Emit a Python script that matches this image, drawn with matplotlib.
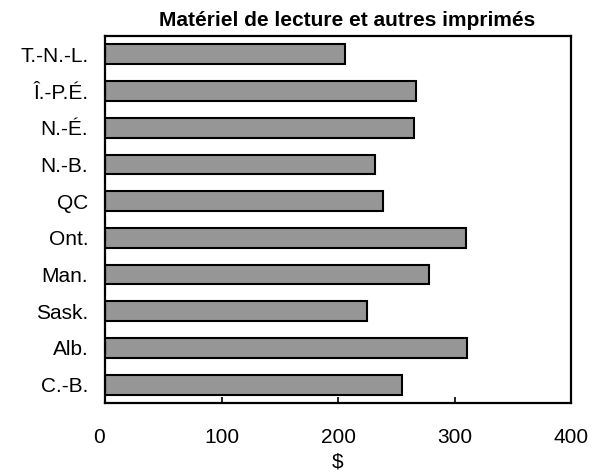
import matplotlib
matplotlib.use("Agg")
import matplotlib.pyplot as plt

provinces = ["T.-N.-L.", "Î.-P.É.", "N.-É.", "N.-B.", "QC",
             "Ont.", "Man.", "Sask.", "Alb.", "C.-B."]
dollars = [206, 267, 265, 232, 239, 310, 278, 225, 311, 255]
xticks = [0, 100, 200, 300, 400]

plt.rcParams['font.family'] = ['Liberation Sans', 'DejaVu Sans']

fig = plt.figure(figsize=(6.05, 4.76), dpi=100)
ax = fig.add_axes([0.1736, 0.1534, 0.7702, 0.771])

pos = list(range(len(provinces)))[::-1]
ax.barh(pos, dollars, height=0.54, color='#969696', edgecolor='black', linewidth=1.5)

ax.set_xlim(0, 400)
ax.set_ylim(-0.5, len(provinces) - 0.5)
ax.set_yticks(pos)
ax.set_yticklabels(provinces, fontsize=15)
ax.tick_params(axis='y', length=0, pad=12)
ax.set_xticks(xticks)
ax.set_xticklabels([str(v) for v in xticks], fontsize=15)
ax.tick_params(axis='x', direction='in', length=4.5, width=1.2, pad=18)
ax.get_xticklabels()[0].set_ha('right')
ax.set_xlabel('$', fontsize=15, labelpad=4)
ax.set_title('Matériel de lecture et autres imprimés', fontsize=15,
             fontweight='bold', pad=7, x=0.52)

for s in ax.spines.values():
    s.set_linewidth(1.6)

fig.savefig('out.png', dpi=100)
